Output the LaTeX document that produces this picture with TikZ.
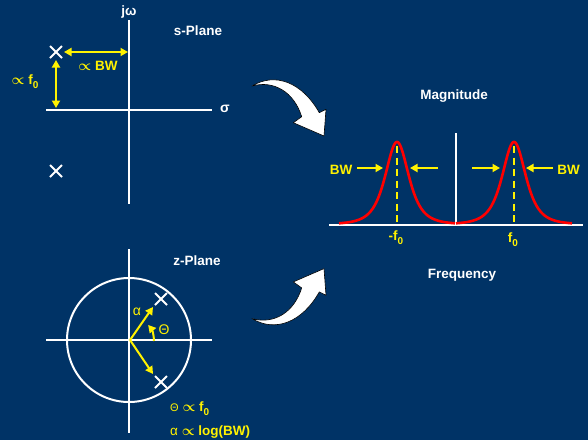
\documentclass[tikz,border=0pt]{standalone}
\usepackage{fontspec}
\setmainfont{Liberation Sans}
\usetikzlibrary{arrows.meta,shapes.misc}
\definecolor{bg}{RGB}{0,51,102}
\newcommand\fsub[1]{\raisebox{-4.5pt}{\fontsize{10}{10}\selectfont #1}}
\newcommand\prp{{\boldmath$\propto$}}
\begin{document}
\begin{tikzpicture}[x=1pt,y=-1pt,
  axis/.style={white, line width=2pt},
  pole/.style={cross out, draw=white, line width=2pt, minimum size=10pt, inner sep=0pt},
  tip/.style={-{Triangle[length=7.5pt,width=8pt]}},
  yarrow/.style={yellow, line width=2pt, tip},
  darrow/.style={yellow, line width=2pt, {Triangle[length=7.5pt,width=8pt]}-{Triangle[length=7.5pt,width=8pt]}},
  ttl/.style={text=white, font=\bfseries\fontsize{13.5}{14}\selectfont, anchor=base, inner sep=0pt},
  lbl/.style={text=yellow, font=\bfseries\fontsize{13.5}{14}\selectfont, anchor=base, inner sep=0pt},
  bigarrow/.style={fill=white, draw=black, line width=0.6pt, line join=round}]
\useasboundingbox (0,0) rectangle (588,440);
\fill[bg] (0,0) rectangle (588,440);

% ---------- s-plane ----------
\coordinate (sT) at (129,20);
\coordinate (sB) at (129,204);
\coordinate (sL) at (46,110);
\coordinate (sR) at (212,110);
\draw[axis] (sT) -- (sB);
\draw[axis] (sL) -- (sR);
\node[ttl] (jw) at (129,15) {jω};
\node[text=white, font=\bfseries\fontsize{14}{14}\selectfont, inner sep=0pt] (sig) at (225,109) {σ};
\node[ttl] (stitle) at (198,35) {s-Plane};
\node[pole] (p1) at (56,52) {};
\node[pole] (p2) at (56,171) {};
\coordinate (bwE) at (128,52);
\coordinate (f0E) at (56,108);
\draw[darrow] (p1.east) ++(2,0) coordinate (bwS) -- (bwE);
\draw[darrow] (p1.south) ++(0,2) coordinate (f0S) -- (f0E);
\node[lbl] (sbw) at (98,70) {\prp\ BW};
\node[lbl] (sf0) at (25,84) {\prp\ f\fsub{0}};

% ---------- z-plane ----------
\coordinate (zc) at (129,340);
\coordinate (zT) at (129,249);
\coordinate (zB) at (129,433);
\coordinate (zL) at (46,340);
\coordinate (zR) at (212,340);
\draw[axis] (zT) -- (zB);
\draw[axis] (zL) -- (zR);
\draw[axis] (zc) circle[radius=62];
\node[ttl] (ztitle) at (197,265) {z-Plane};
\node[pole] (z1) at (161,299) {};
\node[pole] (z2) at (161,382) {};
\coordinate (a1) at (153,307);
\coordinate (a2) at (153,374);
\draw[yarrow] (130,340) coordinate (zo) -- (a1);
\draw[yarrow] (zo) -- (a2);
\draw[yarrow] (154,341) arc[start angle=0, end angle=-40, radius=25];
\node[text=yellow, font=\fontsize{14}{14}\selectfont, inner sep=0pt] (alab) at (137,312) {α};
\node[text=yellow, font=\fontsize{14}{14}\selectfont, inner sep=0pt] (thlab) at (164,330) {Θ};
\node[lbl, anchor=base west] (eq1) at (170,411) {{\mdseries\fontsize{11}{11}\selectfont Θ} \prp\ f\fsub{0}};
\node[lbl, anchor=base west] (eq2) at (170,435) {{\mdseries α} \prp\ log(BW)};

% ---------- big arrows ----------
\path[bigarrow] (252,86) .. controls (275,72) and (302,82) .. (319.3,112.7)
  -- (326,109.3) -- (324,136) -- (293.3,122.7) -- (301.7,116.7)
  .. controls (294,92) and (274,80) .. (252,86) -- cycle;
\path[bigarrow] (252,318.6) .. controls (275,332.6) and (302,322.6) .. (319.3,291.9)
  -- (326,295.3) -- (324,268.6) -- (293.3,281.9) -- (301.7,287.9)
  .. controls (294,312.6) and (274,324.6) .. (252,318.6) -- cycle;

% ---------- spectrum ----------
\node[ttl] (mag) at (454,99) {Magnitude};
\node[ttl] (freq) at (462,278) {Frequency};
\coordinate (bL) at (329,225);
\coordinate (bR) at (583,225);
\coordinate (vT) at (456,133);
\coordinate (vB) at (456,225);
\draw[axis] (bL) -- (bR);
\draw[axis] (vT) -- (vB);
\draw[red, line width=2.6pt, line join=round] plot[domain=-58:58, samples=117]
  ({397+\x}, {224.5-82.6/(1+(\x/21.5)^2)^2});
\draw[red, line width=2.6pt, line join=round] plot[domain=-58:58, samples=117]
  ({514+\x}, {224.5-82.6/(1+(\x/21.5)^2)^2});
\coordinate (pk1) at (397,146);
\coordinate (pk1b) at (397,224);
\coordinate (pk2) at (514,146);
\coordinate (pk2b) at (514,224);
\draw[yellow, line width=2.5pt, dash pattern=on 7pt off 4.5pt] (pk1) -- (pk1b);
\draw[yellow, line width=2.5pt, dash pattern=on 7pt off 4.5pt] (pk2) -- (pk2b);
\node[lbl] (mf0) at (396,240) {-f\fsub{0}};
\node[lbl] (pf0) at (513,242) {f\fsub{0}};
\node[lbl] (bwl) at (341,174) {BW};
\node[lbl] (bwr) at (568.5,174) {BW};
\coordinate (l1s) at (357,168);
\coordinate (l1e) at (383,168);
\coordinate (l2s) at (438,168);
\coordinate (l2e) at (410,168);
\coordinate (r1s) at (472,168);
\coordinate (r1e) at (500,168);
\coordinate (r2s) at (553,168);
\coordinate (r2e) at (526,168);
\draw[yarrow] (l1s) -- (l1e);
\draw[yarrow] (l2s) -- (l2e);
\draw[yarrow] (r1s) -- (r1e);
\draw[yarrow] (r2s) -- (r2e);
\end{tikzpicture}
\end{document}
